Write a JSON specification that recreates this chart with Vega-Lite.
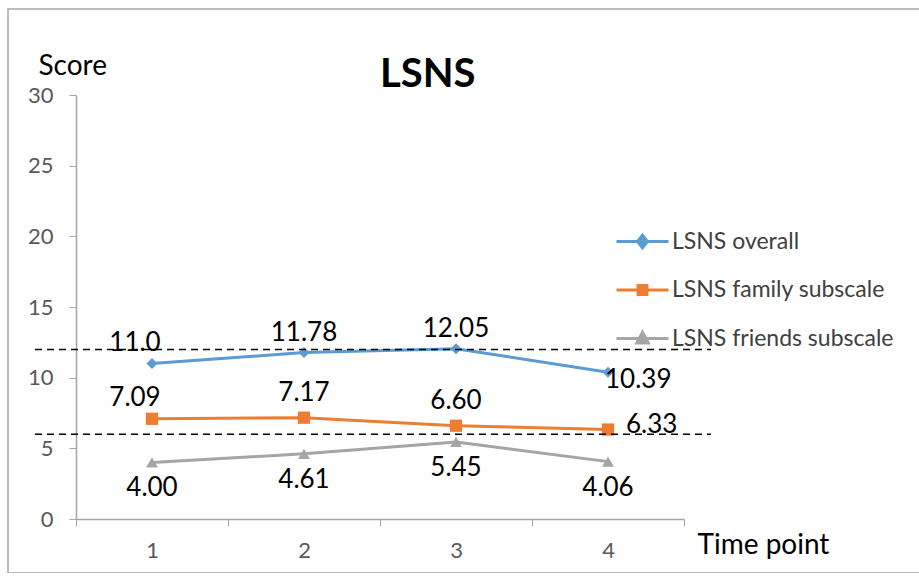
{
  "$schema": "https://vega.github.io/schema/vega-lite/v6.json",
  "width": 912,
  "height": 564,
  "autosize": {"type": "none"},
  "padding": {"left": 8, "top": 9, "right": 0, "bottom": 0},
  "background": "white",
  "config": {"view": {"stroke": "#a6a6a6", "strokeWidth": 1.5}, "font": "Lato"},
  "title": {"text": "LSNS", "font": "Lato", "fontSize": 40, "fontWeight": "bold", "color": "#000000", "anchor": "start", "align": "left", "baseline": "alphabetic", "offset": 0, "dx": 372, "dy": 118},
  "datasets": {
    "scores": [
      {"series": "LSNS overall", "t": 1, "value": 11.0, "label": "11.0"},
      {"series": "LSNS overall", "t": 2, "value": 11.78, "label": "11.78"},
      {"series": "LSNS overall", "t": 3, "value": 12.05, "label": "12.05"},
      {"series": "LSNS overall", "t": 4, "value": 10.39, "label": "10.39"},
      {"series": "LSNS family subscale", "t": 1, "value": 7.09, "label": "7.09"},
      {"series": "LSNS family subscale", "t": 2, "value": 7.17, "label": "7.17"},
      {"series": "LSNS family subscale", "t": 3, "value": 6.60, "label": "6.60"},
      {"series": "LSNS family subscale", "t": 4, "value": 6.33, "label": "6.33"},
      {"series": "LSNS friends subscale", "t": 1, "value": 4.00, "label": "4.00"},
      {"series": "LSNS friends subscale", "t": 2, "value": 4.61, "label": "4.61"},
      {"series": "LSNS friends subscale", "t": 3, "value": 5.45, "label": "5.45"},
      {"series": "LSNS friends subscale", "t": 4, "value": 4.06, "label": "4.06"}
    ],
    "refs": [{"ref": 12}, {"ref": 6}]
  },
  "resolve": {"scale": {"x": "independent"}},
  "layer": [
    {
      "data": {"name": "scores"},
      "encoding": {
        "x": {"field": "t", "type": "ordinal",
          "scale": {"type": "band", "range": [68, 676], "paddingInner": 0, "paddingOuter": 0},
          "axis": {"orient": "bottom", "offset": -54, "tickBand": "extent", "title": "Time point",
            "titleX": 689, "titleY": 26, "titleAlign": "left", "titleBaseline": "middle", "titleAnchor": null,
            "titleFontSize": 28, "titleFontWeight": "normal", "titleColor": "#000000", "titleFont": "Lato",
            "labelFont": "Lato", "labelFontSize": 22, "labelColor": "#595959", "labelAngle": 0, "labelPadding": 14,
            "tickSize": 7, "tickColor": "#a6a6a6", "domainColor": "#a6a6a6", "domainWidth": 1.5, "grid": false}},
        "y": {"field": "value", "type": "quantitative",
          "scale": {"domain": [0, 30], "range": [510, 86], "nice": false, "zero": true},
          "axis": {"orient": "left", "offset": -68, "values": [0, 5, 10, 15, 20, 25, 30], "title": "Score",
            "titleAngle": 0, "titleX": -38, "titleY": 57, "titleAlign": "left", "titleBaseline": "middle", "titleAnchor": null,
            "titleFontSize": 28, "titleFontWeight": "normal", "titleColor": "#000000", "titleFont": "Lato",
            "labelFont": "Lato", "labelFontSize": 22, "labelColor": "#595959", "labelPadding": 16,
            "tickSize": 7, "tickColor": "#a6a6a6", "domainColor": "#a6a6a6", "domainWidth": 1.5, "grid": false}}
      },
      "layer": [
        {
          "mark": {"type": "line", "strokeWidth": 3},
          "encoding": {
            "color": {"field": "series", "type": "nominal",
              "scale": {"domain": ["LSNS overall", "LSNS family subscale", "LSNS friends subscale"], "range": ["#5B9BD5", "#ED7D31", "#A5A5A5"]},
              "legend": {"orient": "none", "legendX": 607, "legendY": 205, "title": null, "padding": 0,
                "symbolSize": 2704, "symbolStrokeWidth": 3, "labelFont": "Lato", "labelFontSize": 23, "labelColor": "#404040",
                "labelOffset": 2, "rowPadding": 8.5, "labelLimit": 400,
                "encode": {"symbols": {"update": {
                  "shape": {"signal": "datum.value === 'LSNS overall' ? 'M-1,0L1,0M0,-0.24L0.19,0L0,0.24L-0.19,0Z' : datum.value === 'LSNS family subscale' ? 'M-1,0L1,0M-0.17,-0.17L0.17,-0.17L0.17,0.17L-0.17,0.17Z' : 'M-1,0L1,0M0,-0.24L0.22,0.17L-0.22,0.17Z'"},
                  "fill": {"signal": "scale('color', datum.value)"},
                  "stroke": {"signal": "scale('color', datum.value)"},
                  "strokeWidth": {"value": 3},
                  "opacity": {"value": 1}
                }}}}
            }
          }
        },
        {
          "transform": [{"filter": {"field": "series", "equal": "LSNS overall"}}],
          "mark": {"type": "point", "filled": true, "size": 120, "opacity": 1, "shape": "diamond"},
          "encoding": {"color": {"field": "series", "type": "nominal"}}
        },
        {
          "transform": [{"filter": {"field": "series", "equal": "LSNS family subscale"}}],
          "mark": {"type": "point", "filled": true, "size": 150, "opacity": 1, "shape": "square"},
          "encoding": {"color": {"field": "series", "type": "nominal"}}
        },
        {
          "transform": [{"filter": {"field": "series", "equal": "LSNS friends subscale"}}],
          "mark": {"type": "point", "filled": true, "size": 140, "opacity": 1, "shape": "triangle-up"},
          "encoding": {"color": {"field": "series", "type": "nominal"}}
        },
        {
          "transform": [{"filter": {"and": [{"field": "series", "equal": "LSNS overall"}, {"field": "t", "oneOf": [2, 3]}]}}],
          "mark": {"type": "text", "font": "Lato", "fontSize": 26, "color": "#000000", "baseline": "middle", "dy": -20},
          "encoding": {"text": {"field": "label"}}
        },
        {
          "transform": [{"filter": {"and": [{"field": "series", "oneOf": ["LSNS overall", "LSNS family subscale"]}, {"field": "t", "equal": 1}]}}],
          "mark": {"type": "text", "font": "Lato", "fontSize": 26, "color": "#000000", "baseline": "middle", "dx": -17, "dy": -21},
          "encoding": {"text": {"field": "label"}}
        },
        {
          "transform": [{"filter": {"and": [{"field": "series", "equal": "LSNS family subscale"}, {"field": "t", "oneOf": [2, 3]}]}}],
          "mark": {"type": "text", "font": "Lato", "fontSize": 26, "color": "#000000", "baseline": "middle", "dy": -25},
          "encoding": {"text": {"field": "label"}}
        },
        {
          "transform": [{"filter": {"and": [{"field": "series", "equal": "LSNS overall"}, {"field": "t", "equal": 4}]}}],
          "mark": {"type": "text", "font": "Lato", "fontSize": 26, "color": "#000000", "baseline": "middle", "align": "left", "dx": -3, "dy": 8},
          "encoding": {"text": {"field": "label"}}
        },
        {
          "transform": [{"filter": {"and": [{"field": "series", "equal": "LSNS family subscale"}, {"field": "t", "equal": 4}]}}],
          "mark": {"type": "text", "font": "Lato", "fontSize": 26, "color": "#000000", "baseline": "middle", "align": "left", "dx": 18, "dy": -5},
          "encoding": {"text": {"field": "label"}}
        },
        {
          "transform": [{"filter": {"field": "series", "equal": "LSNS friends subscale"}}],
          "mark": {"type": "text", "font": "Lato", "fontSize": 26, "color": "#000000", "baseline": "middle", "dy": 26},
          "encoding": {"text": {"field": "label"}}
        }
      ]
    },
    {
      "data": {"name": "refs"},
      "mark": {"type": "rule", "color": "#000000", "strokeWidth": 1.5, "strokeDash": [7, 5]},
      "encoding": {
        "y": {"field": "ref", "type": "quantitative", "title": "Score"},
        "x": {"datum": 0, "type": "quantitative", "scale": {"domain": [0, 1], "range": [27, 703]}, "axis": null},
        "x2": {"datum": 1}
      }
    }
  ]
}
